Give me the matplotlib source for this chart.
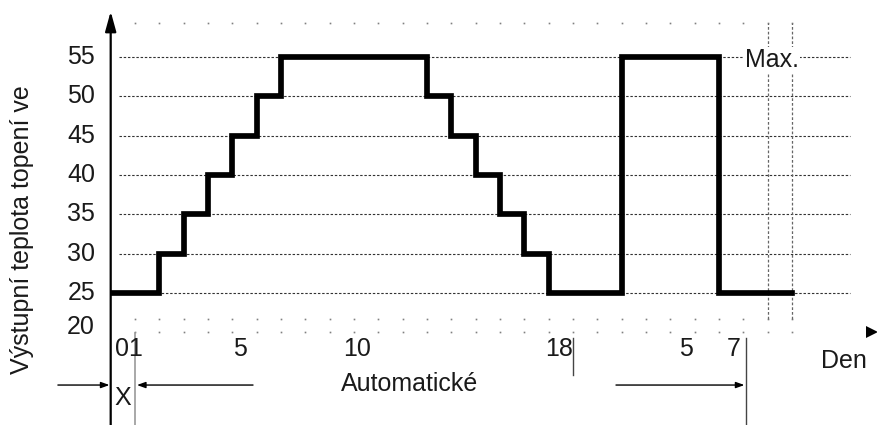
import numpy as np
import matplotlib
matplotlib.use("Agg")
import matplotlib.pyplot as plt

plt.rcParams["font.family"] = ["Liberation Sans", "DejaVu Sans"]

# -------------------------------
# DATA
# -------------------------------
step_days = [0.1, 2, 3, 4, 5, 6, 7, 13, 14, 15, 16, 17, 18, 21, 25, 28]
step_temps = [25, 30, 35, 40, 45, 50, 55, 50, 45, 40, 35, 30, 25, 55, 25, 25]

temp_ticks = [20, 25, 30, 35, 40, 45, 50, 55]
grid_temps = [25, 30, 35, 40, 45, 50, 55]
grid_days = list(range(1, 29))
max_days = [27, 28]

day_labels = ["01", "5", "10", "18", "5", "7"]
day_label_at = [0.73, 5.32, 10.13, 18.45, 23.66, 25.6]

ylabel = "Výstupní teplota topení ve"
xlabel = "Den"
mode_label = "Automatické"

FS = 18
TXT = "#1a1a1a"

# -------------------------------
# FIGURE
# -------------------------------
fig = plt.figure(figsize=(8.78, 4.25), dpi=100)
ax = fig.add_axes([0, 0, 1, 1])
ax.set_xlim(-4.55, 31.54)
ax.set_ylim(8.22, 62.25)
ax.axis("off")

# dashed temperature grid
for t in grid_temps:
    ax.plot([0.34, 30.4], [t, t], color="#333333", lw=0.8,
            dashes=(2.2, 1.6), zorder=1)

# dotted rows (top and bottom)
for row in [59.3, 21.7, 20]:
    ax.plot(grid_days, [row] * len(grid_days), ls="none", marker="s",
            ms=1.2, color="#808080", mew=0, zorder=1)

# dashed verticals at the end (Max.)
for d in max_days:
    ax.plot([d, d], [21.7, 59.3], color="#666666", lw=0.9,
            dashes=(2.2, 1.6), zorder=1)

# step curve
ax.plot(step_days, step_temps, drawstyle="steps-post", color="black",
        lw=4.1, solid_joinstyle="miter", zorder=3)

# y axis with arrow
ax.annotate("", xy=(0, 60.8), xytext=(0, 8.22),
            arrowprops=dict(arrowstyle="-|>,head_length=0.8,head_width=0.22",
                            mutation_scale=15, lw=1.6, color="black",
                            shrinkA=0, shrinkB=0), zorder=4)
# x axis arrow head
ax.plot([31.3], [20], marker=">", ms=9, color="black", mew=0, zorder=4)

# temperature labels
for t in temp_ticks:
    ax.text(-0.64, t + (0.7 if t == 20 else 0), str(t), ha="right",
            va="center", fontsize=FS, color=TXT)

# day labels
for lab, d in zip(day_labels, day_label_at):
    ax.text(d, 17.9, lab, ha="center", va="center", fontsize=FS, color=TXT)

ax.text(-3.65, 33.1, ylabel, rotation=90, ha="center", va="center",
        fontsize=FS, color=TXT)
ax.text(30.14, 16.36, xlabel, ha="center", va="center", fontsize=FS,
        color=TXT)
ax.text(12.3, 13.43, mode_label, ha="center", va="center", fontsize=FS,
        color=TXT)
ax.text(0.49, 11.65, "X", ha="center", va="center", fontsize=FS, color=TXT)
ax.text(26.07, 54.6, "Max.", ha="left", va="center", fontsize=FS, color=TXT,
        zorder=2, bbox=dict(facecolor="white", edgecolor="none", pad=0.5))

# marker lines below the axis
ax.plot([1.0, 1.0], [19.9, 8.22], color="#999999", lw=1.2, zorder=2)
ax.plot([19.0, 19.0], [19.3, 14.6], color="#444444", lw=1.0, zorder=2)
ax.plot([26.1, 26.1], [19.3, 8.22], color="#444444", lw=1.0, zorder=2)

# range arrows
arrow_kw = dict(arrowstyle="-|>,head_length=0.5,head_width=0.18",
                mutation_scale=10, lw=1.0, color="black",
                shrinkA=0, shrinkB=0)
ax.annotate("", xy=(-0.05, 13.3), xytext=(-2.17, 13.3), arrowprops=arrow_kw)
ax.annotate("", xy=(1.08, 13.3), xytext=(5.85, 13.3), arrowprops=arrow_kw)
ax.annotate("", xy=(26.05, 13.3), xytext=(20.77, 13.3), arrowprops=arrow_kw)

fig.savefig("out.png", dpi=100)
plt.close(fig)
